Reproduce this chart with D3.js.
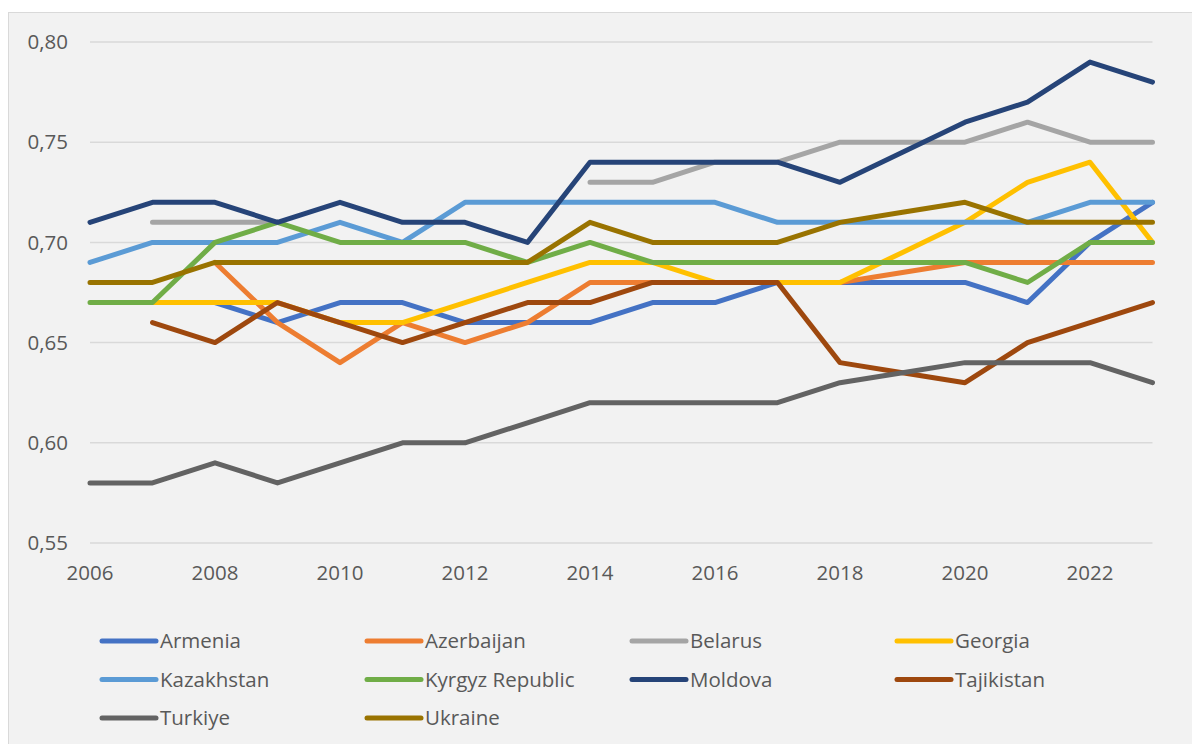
<!DOCTYPE html>
<html><head><meta charset="utf-8">
<script src="https://cdn.jsdelivr.net/npm/d3@7/dist/d3.min.js"></script>
<style>
html,body{margin:0;padding:0;background:#fff;}
svg{display:block;}
text{font-family:"Open Sans","Noto Sans",sans-serif;fill:#595959;}
</style></head>
<body><svg id="c" width="1192" height="744"></svg>
<script>
const years = [2006,2007,2008,2009,2010,2011,2012,2013,2014,2015,2016,2017,2018,2019,2020,2021,2022,2023];
const yTicks = [0.55,0.60,0.65,0.70,0.75,0.80];
const xTicks = [2006,2008,2010,2012,2014,2016,2018,2020,2022];
const countries = ["Armenia","Azerbaijan","Belarus","Georgia","Kazakhstan","Kyrgyz Republic","Moldova","Tajikistan","Turkiye","Ukraine"];
const colors = ["#4472C4","#ED7D31","#A5A5A5","#FFC000","#5B9BD5","#70AD47","#264478","#9E480E","#636363","#997300"];

const armenia    = [null,0.67,0.67,0.66,0.67,0.67,0.66,0.66,0.66,0.67,0.67,0.68,0.68,0.68,0.68,0.67,0.70,0.72];
const azerbaijan = [null,null,0.69,0.66,0.64,0.66,0.65,0.66,0.68,0.68,0.68,0.68,0.68,0.685,0.69,0.69,0.69,0.69];
const belarus    = [null,0.71,0.71,0.71,null,null,null,null,0.73,0.73,0.74,0.74,0.75,0.75,0.75,0.76,0.75,0.75];
const georgia    = [null,0.67,0.67,0.67,0.66,0.66,0.67,0.68,0.69,0.69,0.68,0.68,0.68,0.695,0.71,0.73,0.74,0.70];
const kazakhstan = [0.69,0.70,0.70,0.70,0.71,0.70,0.72,0.72,0.72,0.72,0.72,0.71,0.71,0.71,0.71,0.71,0.72,0.72];
const kyrgyz     = [0.67,0.67,0.70,0.71,0.70,0.70,0.70,0.69,0.70,0.69,0.69,0.69,0.69,0.69,0.69,0.68,0.70,0.70];
const moldova    = [0.71,0.72,0.72,0.71,0.72,0.71,0.71,0.70,0.74,0.74,0.74,0.74,0.73,0.745,0.76,0.77,0.79,0.78];
const tajikistan = [null,0.66,0.65,0.67,0.66,0.65,0.66,0.67,0.67,0.68,0.68,0.68,0.64,0.635,0.63,0.65,0.66,0.67];
const turkiye    = [0.58,0.58,0.59,0.58,0.59,0.60,0.60,0.61,0.62,0.62,0.62,0.62,0.63,0.635,0.64,0.64,0.64,0.63];
const ukraine    = [0.68,0.68,0.69,0.69,0.69,0.69,0.69,0.69,0.71,0.70,0.70,0.70,0.71,0.715,0.72,0.71,0.71,0.71];
const seriesValues = [armenia,azerbaijan,belarus,georgia,kazakhstan,kyrgyz,moldova,tajikistan,turkiye,ukraine];

const svg = d3.select("#c");
svg.append("rect").attr("x",8.5).attr("y",12.5).attr("width",1200).attr("height",800)
  .attr("fill","#F2F2F2").attr("stroke","#D9D9D9").attr("stroke-width",1);

const x = d3.scaleLinear().domain([2006,2023]).range([90,1152.5]);
const y = d3.scaleLinear().domain([0.55,0.80]).range([543,42]);

svg.append("g").selectAll("line").data(yTicks).join("line")
  .attr("x1",x(2006)).attr("x2",x(2023))
  .attr("y1",d=>y(d)).attr("y2",d=>y(d))
  .attr("stroke","#D9D9D9").attr("stroke-width",1.5);

const fmt = d=>d3.format(".2f")(d).replace(".",",");
svg.append("g").selectAll("text").data(yTicks).join("text")
  .attr("x",68).attr("y",d=>y(d)).attr("dy","0.35em")
  .attr("text-anchor","end").attr("font-size",20.5).text(fmt);

svg.append("g").selectAll("text").data(xTicks).join("text")
  .attr("x",d=>x(d)).attr("y",573).attr("dy","0.35em")
  .attr("text-anchor","middle").attr("font-size",20.5).text(d=>d);

const line = d3.line().defined(d=>d[1]!=null).x(d=>x(d[0])).y(d=>y(d[1]));
countries.forEach((c,i)=>{
  const pts = years.map((yr,j)=>[yr,seriesValues[i][j]]);
  svg.append("path").datum(pts).attr("d",line)
    .attr("fill","none").attr("stroke",colors[i]).attr("stroke-width",5)
    .attr("stroke-linejoin","round").attr("stroke-linecap","round");
});

const lg = svg.append("g");
countries.forEach((c,i)=>{
  const col = i%4, row = Math.floor(i/4);
  const lx = 102 + col*265, ly = 641 + row*38.5;
  lg.append("line").attr("x1",lx).attr("x2",lx+54).attr("y1",ly).attr("y2",ly)
    .attr("stroke",colors[i]).attr("stroke-width",5).attr("stroke-linecap","round");
  lg.append("text").attr("x",lx+58).attr("y",ly).attr("dy","0.35em")
    .attr("font-size",20.5).text(c);
});
</script></body></html>
